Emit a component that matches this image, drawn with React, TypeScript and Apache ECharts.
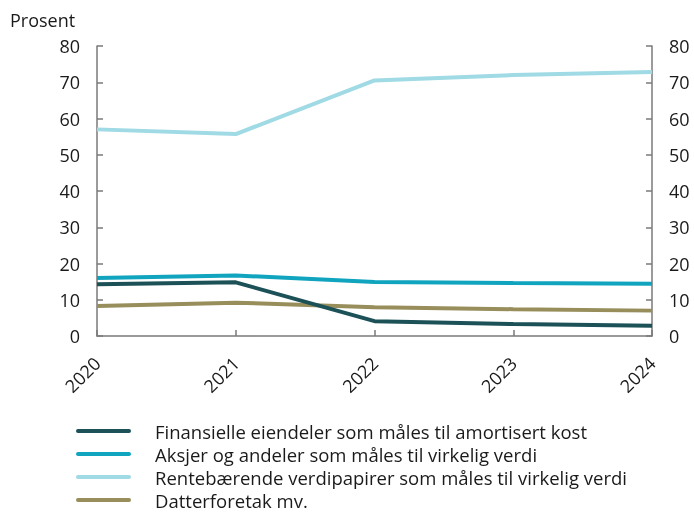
import React, { useEffect, useRef } from "react";
import * as echarts from "echarts";

const years = ["2020", "2021", "2022", "2023", "2024"];
const finansielle = [14.3, 14.8, 4.1, 3.3, 2.8];
const aksjer = [16.0, 16.7, 14.9, 14.6, 14.4];
const rentebaerende = [57.0, 55.7, 70.5, 72.0, 72.8];
const datterforetak = [8.3, 9.2, 7.9, 7.4, 7.0];
const yTicks = [0, 10, 20, 30, 40, 50, 60, 70, 80];

const names = [
  "Finansielle eiendeler som måles til amortisert kost",
  "Aksjer og andeler som måles til virkelig verdi",
  "Rentebærende verdipapirer som måles til virkelig verdi",
  "Datterforetak mv.",
];
const colors = ["#1b5157", "#10a4be", "#9fdae5", "#978e5b"];

export default function App() {
  const ref = useRef<HTMLDivElement>(null);
  useEffect(() => {
    if (!ref.current) return;
    document.body.style.margin = "0";
    document.body.style.overflow = "hidden";
    const chart = echarts.init(ref.current, undefined, { renderer: "svg" });
    const font = "'Open Sans', 'Noto Sans', sans-serif";
    const axisColor = "#7a7a7a";
    const yAxisCommon = {
      type: "value" as const,
      min: yTicks[0],
      max: yTicks[yTicks.length - 1],
      interval: 10,
      axisLine: { show: true, lineStyle: { color: axisColor, width: 1.5 } },
      axisTick: { show: true, inside: true, length: 6, lineStyle: { color: axisColor, width: 1.5 } },
      splitLine: { show: false },
      axisLabel: { color: "#1a1a1a", fontSize: 18, fontFamily: font, margin: 17 },
    };
    const data = [finansielle, aksjer, rentebaerende, datterforetak];
    const legendTop = 431;
    const legendGap = 23;
    const legendGraphics: any[] = [];
    names.forEach((n, i) => {
      const y = legendTop + i * legendGap;
      legendGraphics.push({
        type: "line",
        shape: { x1: 78, y1: y, x2: 129, y2: y },
        style: { stroke: colors[i], lineWidth: 4, lineCap: "round" },
      });
      legendGraphics.push({
        type: "text",
        x: 155,
        y: y,
        style: {
          text: n,
          fontSize: 18.5,
          lineHeight: 18,
          fontFamily: font,
          fill: "#1a1a1a",
          verticalAlign: "middle",
        },
      });
    });
    chart.setOption({
      animation: false,
      textStyle: { fontFamily: font },
      grid: { left: 97, right: 42, top: 46, bottom: 177, containLabel: false },
      graphic: [
        {
          type: "text",
          x: 10,
          y: 20,
          style: { text: "Prosent", fontSize: 18, fontFamily: font, fill: "#1a1a1a", verticalAlign: "middle" },
        },
        ...legendGraphics,
      ],
      xAxis: {
        type: "category",
        data: years,
        boundaryGap: false,
        axisLine: { lineStyle: { color: axisColor, width: 1.5 } },
        axisTick: { show: true, inside: true, length: 6, lineStyle: { color: axisColor, width: 1.5 } },
        axisLabel: { color: "#1a1a1a", fontSize: 18, fontFamily: font, rotate: 45, margin: 24 },
      },
      yAxis: [
        { ...yAxisCommon, position: "left" },
        { ...yAxisCommon, position: "right" },
      ],
      series: names.map((n, i) => ({
        name: n,
        type: "line",
        data: data[i],
        symbol: "none",
        lineStyle: { color: colors[i], width: 4 },
        itemStyle: { color: colors[i] },
        z: i === 0 ? 5 : 3,
      })),
    });
    return () => chart.dispose();
  }, []);
  return (
    <div
      ref={ref}
      style={{ width: 694, height: 513, position: "fixed", left: 0, top: 0 }}
    />
  );
}
